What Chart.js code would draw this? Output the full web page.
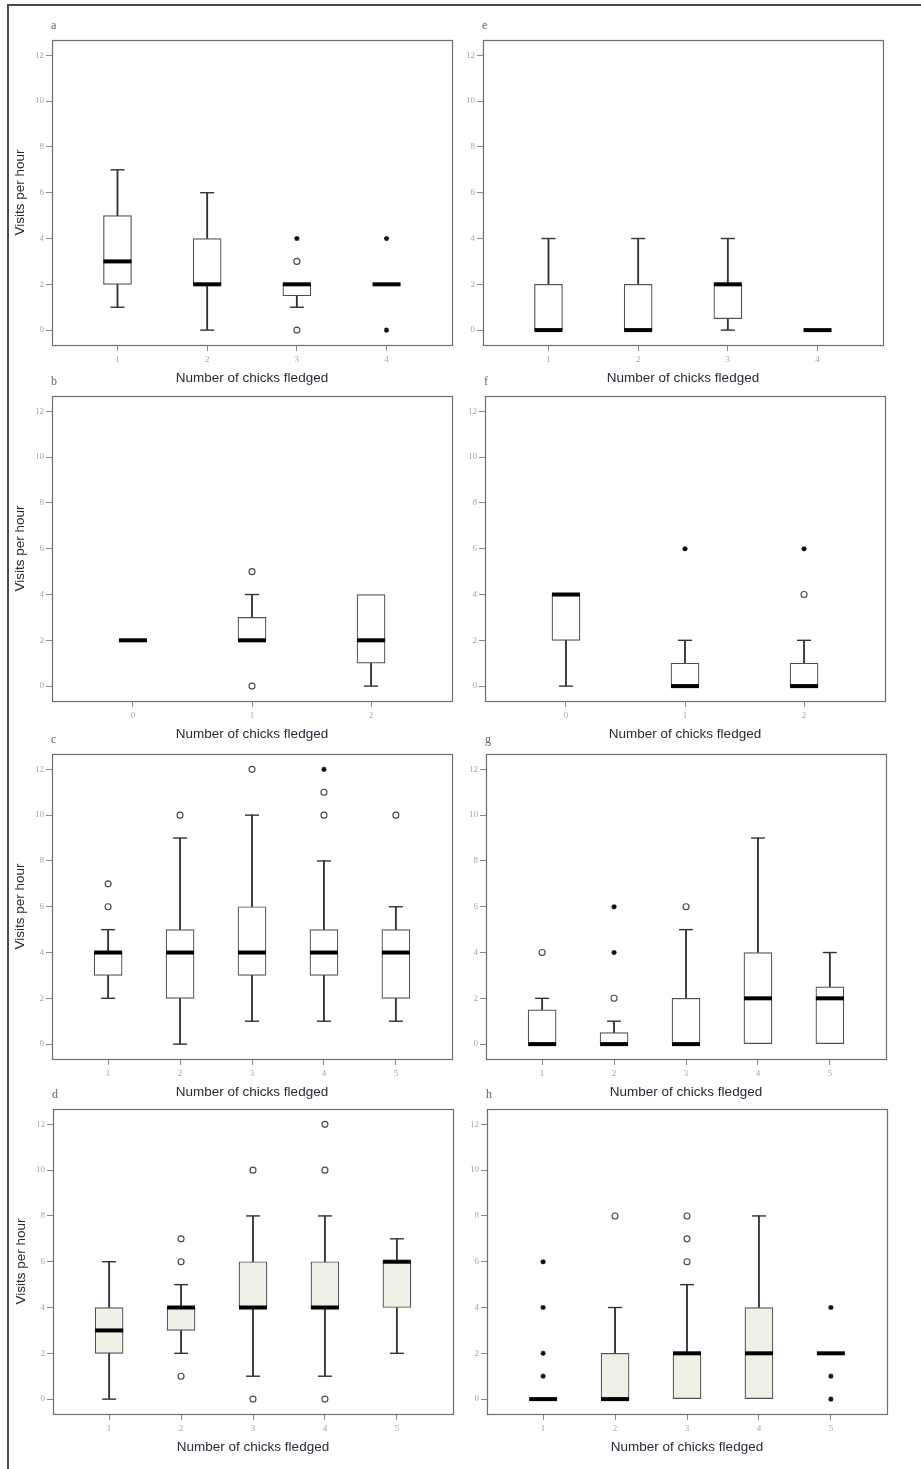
<!DOCTYPE html>
<html>
<head>
<meta charset="utf-8">
<title>Visits per hour by number of chicks fledged</title>
<script src="https://cdn.jsdelivr.net/npm/chart.js@4.4.1/dist/chart.umd.min.js"></script>
<style>
  html, body { margin: 0; padding: 0; background: #fff; }
  #page { position: relative; width: 921px; height: 1469px; overflow: hidden; background: #fff; }
  .frame-top { position: absolute; left: 7px; top: 4px; width: 914px; height: 2px; background: #4a4a4a; }
  .frame-left { position: absolute; left: 7px; top: 4px; width: 2px; height: 1465px; background: #4a4a4a; }
  .letter { position: absolute; font-family: "Liberation Serif", "DejaVu Serif", serif; font-size: 12px; line-height: 16px; color: #666; }
  canvas { position: absolute; }
</style>
</head>
<body>
<div id="page">
  <div class="frame-top"></div>
  <div class="frame-left"></div>
</div>
<script>
// ---- Shared axis ticks ----
const Y_TICKS = [0, 2, 4, 6, 8, 10, 12];

// ---- Panel a ----
const A_LABELS = ['1', '2', '3', '4'];
const A_LOW  = [1, 0, 1, 2];
const A_Q1   = [2, 2, 1.5, 2];
const A_MED  = [3, 2, 2, 2];
const A_Q3   = [5, 4, 2, 2];
const A_HIGH = [7, 6, 2, 2];
const A_CIRCLES = [[2, 3], [2, 0]];
const A_STARS   = [[2, 4], [3, 4], [3, 0]];

// ---- Panel b ----
const B_LABELS = ['0', '1', '2'];
const B_LOW  = [2, 2, 0];
const B_Q1   = [2, 2, 1];
const B_MED  = [2, 2, 2];
const B_Q3   = [2, 3, 4];
const B_HIGH = [2, 4, 4];
const B_CIRCLES = [[1, 5], [1, 0]];
const B_STARS   = [];

// ---- Panel c ----
const C_LABELS = ['1', '2', '3', '4', '5'];
const C_LOW  = [2, 0, 1, 1, 1];
const C_Q1   = [3, 2, 3, 3, 2];
const C_MED  = [4, 4, 4, 4, 4];
const C_Q3   = [4, 5, 6, 5, 5];
const C_HIGH = [5, 9, 10, 8, 6];
const C_CIRCLES = [[0, 7], [0, 6], [1, 10], [2, 12], [3, 11], [3, 10], [4, 10]];
const C_STARS   = [[3, 12]];

// ---- Panel d ----
const D_LABELS = ['1', '2', '3', '4', '5'];
const D_LOW  = [0, 2, 1, 1, 2];
const D_Q1   = [2, 3, 4, 4, 4];
const D_MED  = [3, 4, 4, 4, 6];
const D_Q3   = [4, 4, 6, 6, 6];
const D_HIGH = [6, 5, 8, 8, 7];
const D_CIRCLES = [[1, 7], [1, 6], [1, 1], [2, 10], [2, 0], [3, 12], [3, 10], [3, 0]];
const D_STARS   = [];

// ---- Panel e ----
const E_LABELS = ['1', '2', '3', '4'];
const E_LOW  = [0, 0, 0, 0];
const E_Q1   = [0, 0, 0.5, 0];
const E_MED  = [0, 0, 2, 0];
const E_Q3   = [2, 2, 2, 0];
const E_HIGH = [4, 4, 4, 0];
const E_CIRCLES = [];
const E_STARS   = [];

// ---- Panel f ----
const F_LABELS = ['0', '1', '2'];
const F_LOW  = [0, 0, 0];
const F_Q1   = [2, 0, 0];
const F_MED  = [4, 0, 0];
const F_Q3   = [4, 1, 1];
const F_HIGH = [4, 2, 2];
const F_CIRCLES = [[2, 4]];
const F_STARS   = [[1, 6], [2, 6]];

// ---- Panel g ----
const G_LABELS = ['1', '2', '3', '4', '5'];
const G_LOW  = [0, 0, 0, 0, 0];
const G_Q1   = [0, 0, 0, 0, 0];
const G_MED  = [0, 0, 0, 2, 2];
const G_Q3   = [1.5, 0.5, 2, 4, 2.5];
const G_HIGH = [2, 1, 5, 9, 4];
const G_CIRCLES = [[0, 4], [1, 2], [2, 6]];
const G_STARS   = [[1, 6], [1, 4]];

// ---- Panel h ----
const H_LABELS = ['1', '2', '3', '4', '5'];
const H_LOW  = [0, 0, 0, 0, 2];
const H_Q1   = [0, 0, 0, 0, 2];
const H_MED  = [0, 0, 2, 2, 2];
const H_Q3   = [0, 2, 2, 4, 2];
const H_HIGH = [0, 4, 5, 8, 2];
const H_CIRCLES = [[1, 8], [2, 8], [2, 7], [2, 6]];
const H_STARS   = [[0, 6], [0, 4], [0, 2], [0, 1], [4, 4], [4, 1], [4, 0]];

// ---- Layout ----
const PLOT_W = 400, PLOT_H = 305;
const AXIS_W = 45, AXIS_H = 45, PAD_T = 10, PAD_R = 10;
const X_TITLE = 'Number of chicks fledged';
const Y_TITLE = 'Visits per hour';
const TITLE_FONT = { family: '"Liberation Sans", Arial, sans-serif', size: 13.5 };
const TICK_FONT = { family: '"Liberation Serif", "DejaVu Serif", serif', size: 9 };

const PANELS = [
  { letter: 'a', left: 52,  top: 40,   pad: 0.73, yTitle: true,  fill: '#ffffff', labels: A_LABELS, low: A_LOW, q1: A_Q1, med: A_MED, q3: A_Q3, high: A_HIGH, circles: A_CIRCLES, stars: A_STARS },
  { letter: 'e', left: 483, top: 40,   pad: 0.73, yTitle: false, fill: '#ffffff', labels: E_LABELS, low: E_LOW, q1: E_Q1, med: E_MED, q3: E_Q3, high: E_HIGH, circles: E_CIRCLES, stars: E_STARS },
  { letter: 'b', left: 52,  top: 396,  pad: 0.68, yTitle: true,  fill: '#ffffff', labels: B_LABELS, low: B_LOW, q1: B_Q1, med: B_MED, q3: B_Q3, high: B_HIGH, circles: B_CIRCLES, stars: B_STARS },
  { letter: 'f', left: 485, top: 396,  pad: 0.68, yTitle: false, fill: '#ffffff', labels: F_LABELS, low: F_LOW, q1: F_Q1, med: F_MED, q3: F_Q3, high: F_HIGH, circles: F_CIRCLES, stars: F_STARS },
  { letter: 'c', left: 52,  top: 754,  pad: 0.78, yTitle: true,  fill: '#ffffff', labels: C_LABELS, low: C_LOW, q1: C_Q1, med: C_MED, q3: C_Q3, high: C_HIGH, circles: C_CIRCLES, stars: C_STARS },
  { letter: 'g', left: 486, top: 754,  pad: 0.78, yTitle: false, fill: '#ffffff', labels: G_LABELS, low: G_LOW, q1: G_Q1, med: G_MED, q3: G_Q3, high: G_HIGH, circles: G_CIRCLES, stars: G_STARS },
  { letter: 'd', left: 53,  top: 1109, pad: 0.78, yTitle: true,  fill: '#eef2e6', labels: D_LABELS, low: D_LOW, q1: D_Q1, med: D_MED, q3: D_Q3, high: D_HIGH, circles: D_CIRCLES, stars: D_STARS },
  { letter: 'h', left: 487, top: 1109, pad: 0.78, yTitle: false, fill: '#eef2e6', labels: H_LABELS, low: H_LOW, q1: H_Q1, med: H_MED, q3: H_Q3, high: H_HIGH, circles: H_CIRCLES, stars: H_STARS }
];

// Plot frame around the chart area
const framePlugin = {
  id: 'plotFrame',
  beforeDatasetsDraw(chart) {
    const { ctx, chartArea: a } = chart;
    ctx.save();
    ctx.strokeStyle = '#6e6e6e';
    ctx.lineWidth = 1.2;
    ctx.strokeRect(Math.round(a.left) + 0.5, Math.round(a.top) + 0.5,
                   Math.round(a.right - a.left), Math.round(a.bottom - a.top));
    ctx.restore();
  }
};

const page = document.getElementById('page');

function buildPanel(p) {
  const n = p.labels.length;
  const whiskers = [], boxes = [], caps = [];
  for (let i = 0; i < n; i++) {
    if (p.low[i] < p.q1[i]) { whiskers.push({ x: i, y: [p.low[i], p.q1[i]] }); caps.push({ x: i, y: p.low[i] }); }
    if (p.high[i] > p.q3[i]) { whiskers.push({ x: i, y: [p.q3[i], p.high[i]] }); caps.push({ x: i, y: p.high[i] }); }
    if (p.q3[i] > p.q1[i]) boxes.push({ x: i, y: [p.q1[i], p.q3[i]] });
  }
  const medians = p.med.map((v, i) => ({ x: i, y: v }));
  const circles = p.circles.map(([i, v]) => ({ x: i, y: v }));
  const stars = p.stars.map(([i, v]) => ({ x: i, y: v }));

  const letter = document.createElement('div');
  letter.className = 'letter';
  letter.textContent = p.letter;
  letter.style.left = (p.left - 1) + 'px';
  letter.style.top = (p.top - 23) + 'px';
  page.appendChild(letter);

  const canvas = document.createElement('canvas');
  const cw = AXIS_W + PLOT_W + PAD_R, ch = PAD_T + PLOT_H + AXIS_H;
  canvas.width = cw; canvas.height = ch;
  canvas.style.width = cw + 'px'; canvas.style.height = ch + 'px';
  canvas.style.left = (p.left - AXIS_W) + 'px';
  canvas.style.top = (p.top - PAD_T) + 'px';
  page.appendChild(canvas);

  new Chart(canvas, {
    type: 'bar',
    data: {
      datasets: [
        { type: 'bar', data: whiskers, barThickness: 1.2, grouped: false, backgroundColor: '#333', borderWidth: 0, order: 5 },
        { type: 'bar', data: boxes, barThickness: 28, grouped: false, backgroundColor: p.fill, borderColor: '#505050', borderWidth: 1.2, borderSkipped: false, order: 4 },
        { type: 'scatter', data: caps, pointStyle: 'line', pointRadius: 7, borderColor: '#333', borderWidth: 1.4, order: 3 },
        { type: 'scatter', data: medians, pointStyle: 'line', pointRadius: 14, borderColor: '#000', borderWidth: 4, order: 2 },
        { type: 'scatter', data: circles, pointStyle: 'circle', pointRadius: 3, backgroundColor: '#fff', borderColor: '#444', borderWidth: 1.1, order: 1 },
        { type: 'scatter', data: stars, pointStyle: 'star', pointRadius: 2.6, backgroundColor: '#111', borderColor: '#111', borderWidth: 1.3, order: 1 }
      ]
    },
    options: {
      responsive: false,
      animation: false,
      devicePixelRatio: 1,
      events: [],
      layout: { autoPadding: false, padding: { left: 0, right: PAD_R, top: PAD_T, bottom: 0 } },
      plugins: { legend: { display: false }, tooltip: { enabled: false } },
      scales: {
        x: {
          type: 'linear',
          min: -p.pad,
          max: n - 1 + p.pad,
          offset: false,
          afterBuildTicks: s => { s.ticks = p.labels.map((_, i) => ({ value: i })); },
          afterFit: s => { s.height = AXIS_H; },
          ticks: {
            autoSkip: false, maxRotation: 0, padding: 3,
            color: '#a6a6a6', font: TICK_FONT,
            callback: v => p.labels[Math.round(v)]
          },
          grid: { offset: false, drawOnChartArea: false, drawTicks: true, tickLength: 6, color: '#8a8a8a', lineWidth: 1 },
          border: { display: false },
          title: { display: true, text: X_TITLE, color: '#2a2a38', font: TITLE_FONT, padding: { top: 0, bottom: 4 } }
        },
        y: {
          type: 'linear',
          min: -0.65,
          max: 12.67,
          afterBuildTicks: s => { s.ticks = Y_TICKS.map(v => ({ value: v })); },
          afterFit: s => { s.width = AXIS_W; },
          ticks: { padding: 2, color: '#a6a6a6', font: TICK_FONT, callback: v => String(v) },
          grid: { drawOnChartArea: false, drawTicks: true, tickLength: 6, color: '#8a8a8a', lineWidth: 1 },
          border: { display: false },
          title: { display: p.yTitle, text: Y_TITLE, color: '#2a2a2a', font: TITLE_FONT, padding: { top: 5, bottom: 0 } }
        }
      }
    },
    plugins: [framePlugin]
  });
}

PANELS.forEach(buildPanel);
</script>
</body>
</html>
